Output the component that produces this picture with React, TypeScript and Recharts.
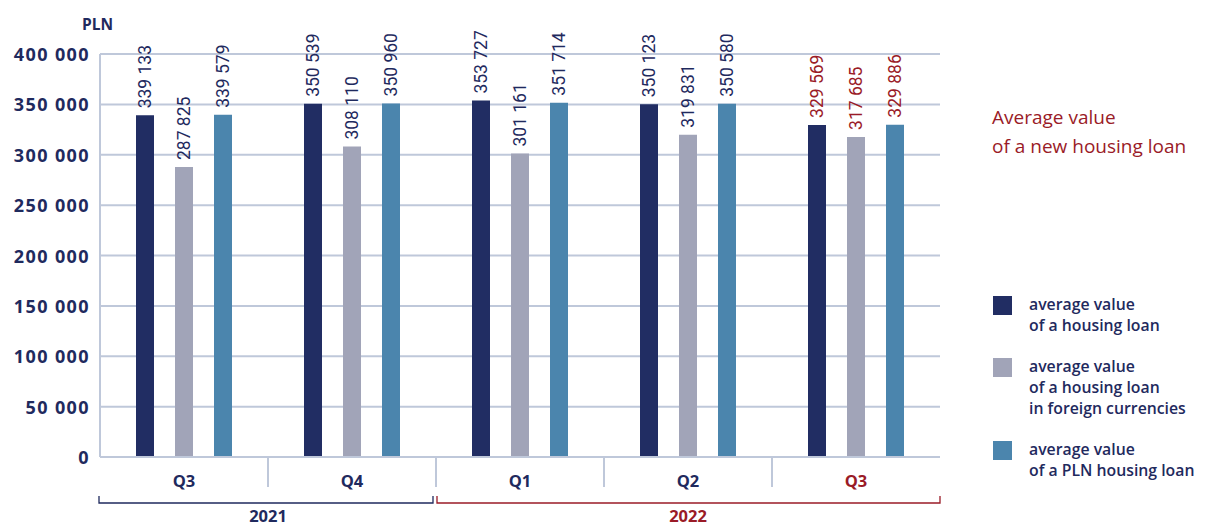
import React from "react";
import { BarChart, Bar, XAxis, YAxis, CartesianGrid, LabelList } from "recharts";

const quarters = ["Q3", "Q4", "Q1", "Q2", "Q3"];
const years = ["2021", "2021", "2022", "2022", "2022"];
const housingLoan = [339133, 350539, 353727, 350123, 329569];
const foreignLoan = [287825, 308110, 301161, 319831, 317685];
const plnLoan = [339579, 350960, 351714, 350580, 329886];
const yTicks = [0, 50000, 100000, 150000, 200000, 250000, 300000, 350000, 400000];

const NAVY = "#212d63";
const GREY = "#a1a4b8";
const STEEL = "#4b85ad";
const GRID = "#bfc8da";
const TEXT = "#1f2a5e";
const RED = "#9a1b27";

const W = 1206;
const H = 526;
const M = { top: 54, right: 266, bottom: 0, left: 0 };
const X_HEIGHT = 69;
const Y_WIDTH = 100;
const PLOT_W = W - M.left - M.right - Y_WIDTH;
const BAND = PLOT_W / quarters.length;
const LAST = quarters.length - 1;

const series = [
  { key: "housing", label: ["average value", "of a housing loan"], color: NAVY },
  { key: "foreign", label: ["average value", "of a housing loan", "in foreign currencies"], color: GREY },
  { key: "pln", label: ["average value", "of a PLN housing loan"], color: STEEL },
];

const data = quarters.map((q, i) => ({
  id: `${years[i]}-${q}`,
  quarter: q,
  year: years[i],
  housing: housingLoan[i],
  foreign: foreignLoan[i],
  pln: plnLoan[i],
}));

const fmt = (v: number) => String(v).replace(/\B(?=(\d{3})+(?!\d))/g, " ");

const bodyFont = "'Open Sans', sans-serif";
const labelFont = "Roboto, sans-serif";

// rotated value above each bar; the newest quarter is shown in red
const BarValue = (props: any) => {
  const { x, y, width, value, index } = props;
  const cx = x + width / 2;
  const ty = y - 7;
  return (
    <text
      x={cx}
      y={ty}
      transform={`rotate(-90, ${cx}, ${ty})`}
      textAnchor="start"
      dominantBaseline="central"
      fontFamily={labelFont}
      fontSize={17.5}
      fill={index === LAST ? RED : TEXT}
    >
      {fmt(value)}
    </text>
  );
};

const YTick = (props: any) => {
  const { x, y, payload } = props;
  return (
    <text
      x={x - 10}
      y={y}
      textAnchor="end"
      dominantBaseline="central"
      fontFamily={bodyFont}
      fontWeight={700}
      fontSize={18}
      letterSpacing={1.4}
      fill={TEXT}
    >
      {fmt(payload.value)}
    </text>
  );
};

// quarter label, separators and year brackets underneath the axis
const XTick = (props: any) => {
  const { x, y, index } = props;
  const left = x - BAND / 2;
  const year = years[index];
  const firstOfYear = index === 0 || years[index - 1] !== year;
  const count = years.filter((yr) => yr === year).length;
  const yearColor = year === years[LAST] ? RED : TEXT;
  const qColor = index === LAST ? RED : TEXT;
  return (
    <g>
      {index > 0 && <line x1={left} x2={left} y1={y} y2={y + 30} stroke={GRID} strokeWidth={2} />}
      <text
        x={x}
        y={y + 30}
        textAnchor="middle"
        fontFamily={bodyFont}
        fontWeight={700}
        fontSize={16.5}
        fill={qColor}
      >
        {quarters[index]}
      </text>
      {firstOfYear && (
        <g>
          <path
            d={`M${left + (index === 0 ? -1 : 1)},${y + 39} V${y + 46} H${left + count * BAND - (index + count - 1 === LAST ? 0 : 3)} V${y + 39}`}
            fill="none"
            stroke={yearColor}
            strokeWidth={1.3}
          />
          <text
            x={left + (count * BAND) / 2}
            y={y + 65}
            textAnchor="middle"
            fontFamily={bodyFont}
            fontWeight={700}
            fontSize={16.5}
            fill={yearColor}
          >
            {year}
          </text>
        </g>
      )}
    </g>
  );
};

const LegendBox = () => (
  <div
    style={{
      position: "absolute",
      left: 993,
      top: 294,
      fontFamily: bodyFont,
      fontWeight: 600,
      fontSize: 15.8,
      color: TEXT,
    }}
  >
    {series.map((s) => (
      <div key={s.key} style={{ display: "flex", marginBottom: 20 }}>
        <div style={{ width: 19, height: 19, background: s.color, marginTop: 2, marginRight: 17 }} />
        <div style={{ lineHeight: "21px" }}>
          {s.label.map((l) => (
            <div key={l}>{l}</div>
          ))}
        </div>
      </div>
    ))}
  </div>
);

export default function App() {
  return (
    <div style={{ position: "absolute", left: 0, top: 0, width: W, height: H, background: "#fff" }}>
      <BarChart
        width={W}
        height={H}
        data={data}
        margin={M}
        barSize={18}
        barGap={21}
        barCategoryGap={36}
      >
        <CartesianGrid vertical={false} stroke={GRID} strokeWidth={2} />
        <XAxis
          dataKey="id"
          axisLine={{ stroke: GRID, strokeWidth: 2 }}
          tickLine={false}
          tickSize={0}
          tickMargin={0}
          interval={0}
          tick={<XTick />}
          height={X_HEIGHT}
        />
        <YAxis
          width={Y_WIDTH}
          domain={[0, 400000]}
          ticks={yTicks}
          interval={0}
          axisLine={{ stroke: GRID, strokeWidth: 2 }}
          tickLine={false}
          tickSize={0}
          tickMargin={0}
          tick={<YTick />}
          label={{
            value: "PLN",
            position: "insideTopRight",
            content: (p: any) => (
              <text
                x={p.viewBox.x + p.viewBox.width + 13}
                y={30}
                textAnchor="end"
                fontFamily={bodyFont}
                fontWeight={700}
                fontSize={15.5}
                fill={TEXT}
              >
                PLN
              </text>
            ),
          }}
        />
        {series.map((s) => (
          <Bar key={s.key} dataKey={s.key} fill={s.color} isAnimationActive={false}>
            <LabelList dataKey={s.key} content={<BarValue />} />
          </Bar>
        ))}
      </BarChart>
      <LegendBox />
      <div
        style={{
          position: "absolute",
          left: 992,
          top: 103,
          fontFamily: bodyFont,
          fontSize: 19,
          lineHeight: "29px",
          color: RED,
        }}
      >
        Average value
        <br />
        of a new housing loan
      </div>
    </div>
  );
}
